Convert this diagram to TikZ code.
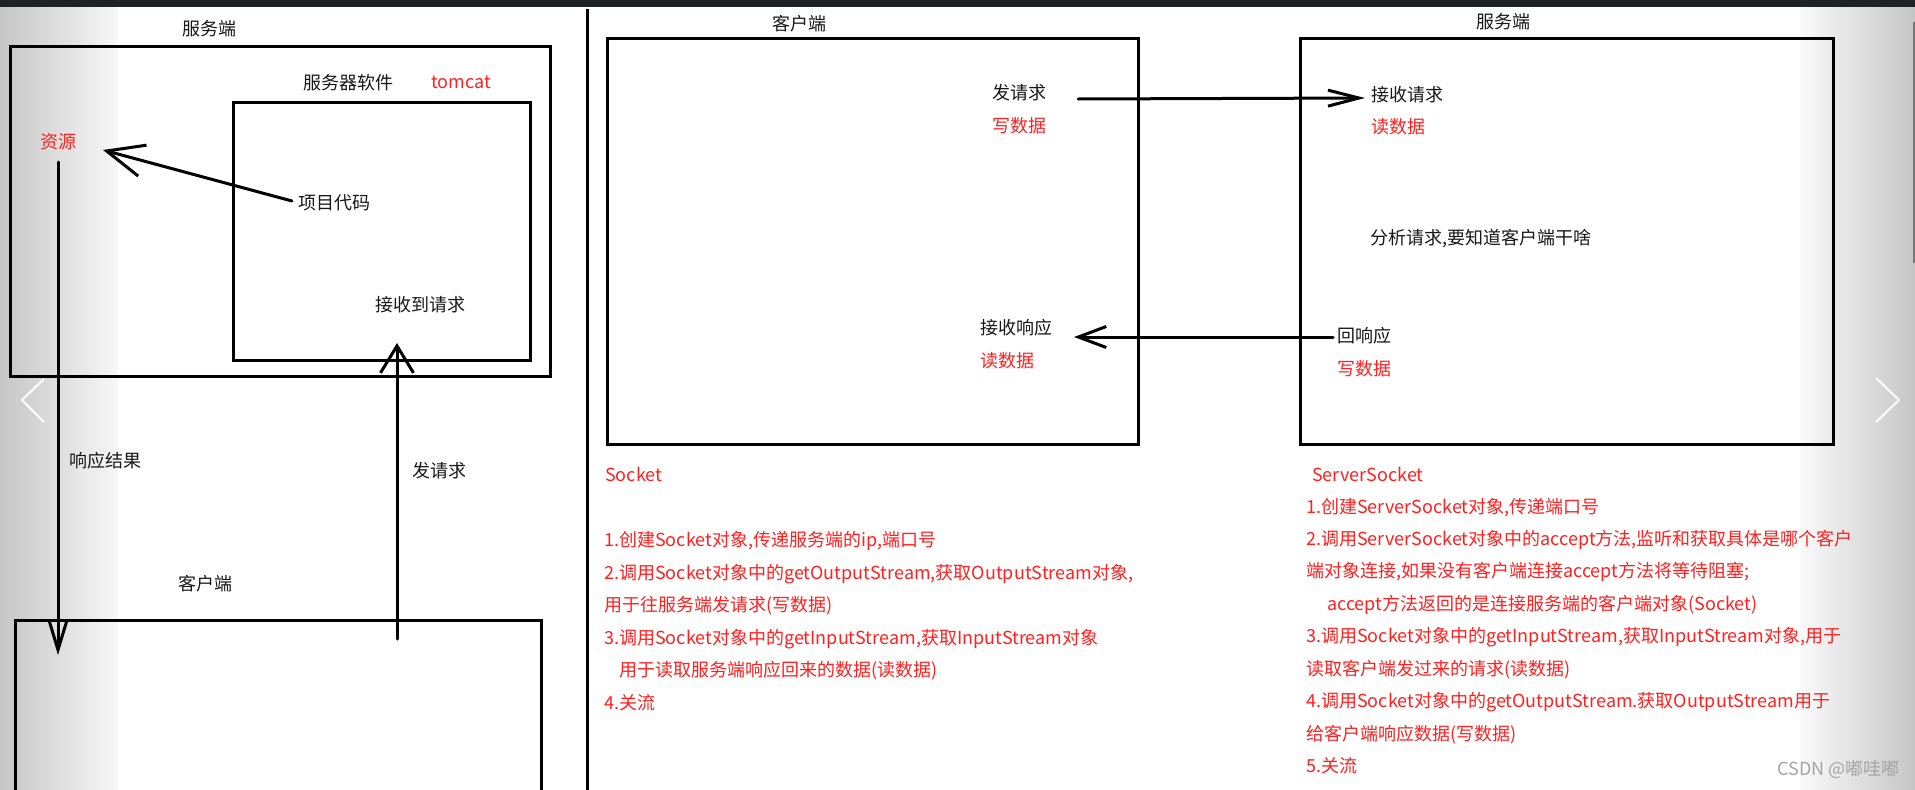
\documentclass[tikz,border=0pt]{standalone}
\usepackage{fontspec}
\setmainfont{Noto Sans CJK SC}
\usetikzlibrary{arrows.meta}
\definecolor{txtred}{RGB}{255,32,32}
\definecolor{txtblk}{RGB}{24,24,24}
\definecolor{topbar}{RGB}{32,33,36}
\definecolor{edgegray}{RGB}{198,198,198}
\definecolor{wmgray}{RGB}{165,165,165}
\definecolor{scrollgray}{RGB}{120,120,120}
\begin{document}
\begin{tikzpicture}[x=1pt,y=-1pt,
  lbl/.style={inner sep=0pt,text height=13pt,text depth=4pt,font=\fontsize{18}{22}\selectfont,text=txtblk},
  rlbl/.style={lbl,text=txtred},
  item/.style={rlbl,anchor=west},
  frame/.style={draw=black,line width=3pt,inner sep=0pt,outer sep=0pt,anchor=north west},
  conn/.style 2 args={draw=black,line width=3pt,line cap=round,line join=round,-{Straight Barb[length=#1,width=#2]}},
]
\useasboundingbox (0,0) rectangle (1915,790);
\clip (0,0) rectangle (1915,790);
\fill[white] (0,0) rectangle (1915,790);
\shade[left color=edgegray,right color=white!97!black] (0,0) rectangle (118,790);
\shade[left color=white!98!black,right color=edgegray] (1800,0) rectangle (1915,790);
\fill[topbar] (0,0) rectangle (1915,7);
\fill[scrollgray] (1913,22) rectangle (1915,263);
% carousel chevrons
\draw[white,line width=2pt] (44,379) -- (22,400) -- (44,422);
\draw[white,line width=2pt] (1876,378) -- (1899,400) -- (1876,422);
% divider
\draw[line width=3pt] (587,9) -- (587,795);

% ---------- left panel ----------
\node[frame,minimum width=540pt,minimum height=330pt] (srvbox) at (10,46) {};
\node[frame,minimum width=297pt,minimum height=258pt] (tcbox) at (233,102) {};
\node[frame,minimum width=526pt,minimum height=300pt] (clibox) at (15,620) {};

\node[lbl] (srvT) at (209,31) {服务端};
\node[lbl] (softT) at (348,85) {服务器软件};
\node[rlbl] (tomcat) at (461,84) {tomcat};
\node[rlbl] (res) at (58,144) {资源};
\node[lbl] (code) at (334,205) {项目代码};
\node[lbl] (recv) at (420,307) {接收到请求};
\node[lbl] (respR) at (105,463) {响应结果};
\node[lbl] (sendR) at (439,473) {发请求};
\node[lbl] (cliT) at (205,586) {客户端};

\coordinate (a1s) at (292,201);
\coordinate (a1e) at (103,150);
\draw[conn={37pt}{32pt}] (a1s) -- (a1e);
\coordinate (a2s) at (397,639);
\coordinate (a2e) at (397,343);
\draw[conn={27pt}{33pt}] (a2s) -- (a2e);
\coordinate (a3s) at (58,162);
\coordinate (a3e) at (58,655);
\draw[conn={28pt}{17pt}] (a3s) -- (a3e);

% ---------- right panel ----------
\node[frame,minimum width=531pt,minimum height=406pt] (cbox) at (607,38) {};
\node[frame,minimum width=533pt,minimum height=406pt] (sbox) at (1300,38) {};
\node[lbl] (cT) at (799,26) {客户端};
\node[lbl] (sT) at (1503,24) {服务端};

\node[lbl,anchor=west] (send) at (992,95) {发请求};
\node[rlbl,anchor=west] (wr1) at (992,128) {写数据};
\node[lbl,anchor=west] (rresp) at (980,330) {接收响应};
\node[rlbl,anchor=west] (rd1) at (980,363) {读数据};

\node[lbl,anchor=west] (rreq) at (1371,97) {接收请求};
\node[rlbl,anchor=west] (rd2) at (1371,129) {读数据};
\node[lbl,anchor=west] (anal) at (1370,240) {分析请求,要知道客户端干啥};
\node[lbl,anchor=west] (back) at (1337,338) {回响应};
\node[rlbl,anchor=west] (wr2) at (1337,371) {写数据};

\coordinate (a4s) at (1078,99);
\coordinate (a4e) at (1365,98);
\draw[conn={31pt}{16pt}] (a4s) -- (a4e);
\coordinate (a5s) at (1333,337);
\coordinate (a5e) at (1074,337);
\draw[conn={28pt}{21pt}] (a5s) -- (a5e);

% ---------- Socket notes ----------
\node[item] (sk) at (605,477) {Socket};
\node[item] (sk1) at (604,542) {1.创建Socket对象,传递服务端的ip,端口号};
\node[item] (sk2) at (604,575) {2.调用Socket对象中的getOutputStream,获取OutputStream对象,};
\node[item] (sk3) at (604,607) {用于往服务端发请求(写数据)};
\node[item] (sk4) at (604,640) {3.调用Socket对象中的getInputStream,获取InputStream对象};
\node[item] (sk5) at (619,672) {用于读取服务端响应回来的数据(读数据)};
\node[item] (sk6) at (604,705) {4.关流};

% ---------- ServerSocket notes ----------
\node[item] (ss) at (1312,477) {ServerSocket};
\node[item] (ss1) at (1306,509) {1.创建ServerSocket对象,传递端口号};
\node[item] (ss2) at (1306,541) {2.调用ServerSocket对象中的accept方法,监听和获取具体是哪个客户};
\node[item] (ss3) at (1306,573) {端对象连接,如果没有客户端连接accept方法将等待阻塞;};
\node[item] (ss4) at (1327,606) {accept方法返回的是连接服务端的客户端对象(Socket)};
\node[item] (ss5) at (1306,638) {3.调用Socket对象中的getInputStream,获取InputStream对象,用于};
\node[item] (ss6) at (1306,671) {读取客户端发过来的请求(读数据)};
\node[item] (ss7) at (1306,703) {4.调用Socket对象中的getOutputStream.获取OutputStream用于};
\node[item] (ss8) at (1306,736) {给客户端响应数据(写数据)};
\node[item] (ss9) at (1306,768) {5.关流};

\node[lbl,text=wmgray,anchor=east] (wm) at (1900,771) {CSDN @嘟哇嘟};
\end{tikzpicture}
\end{document}
